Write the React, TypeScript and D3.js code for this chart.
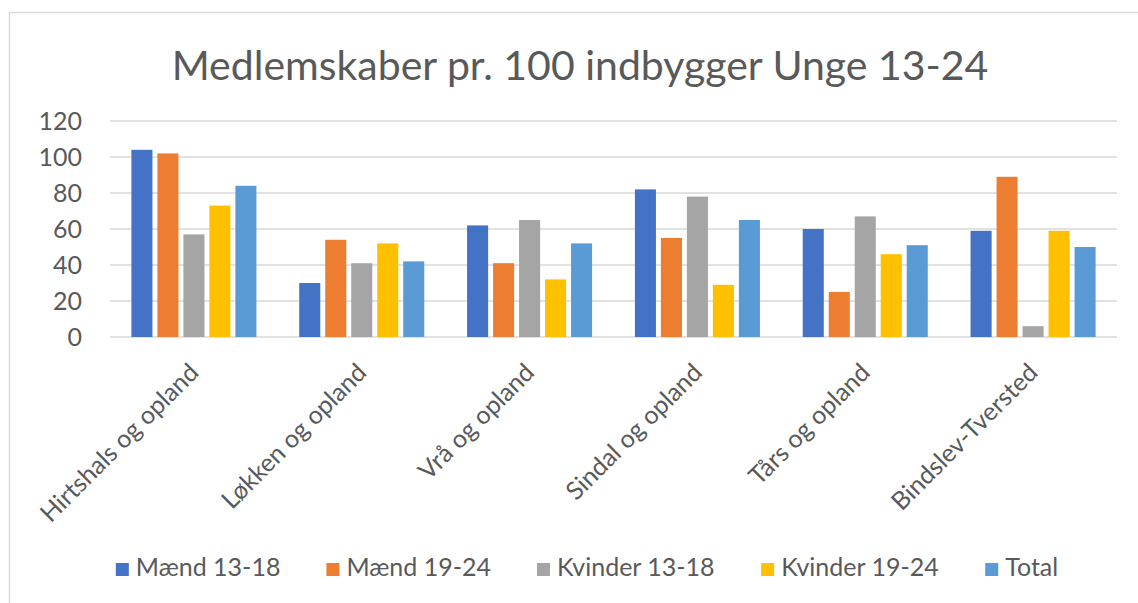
import React from 'react';
import { scaleBand, scaleLinear } from 'd3';

const categories = [
  'Hirtshals og opland',
  'Løkken og opland',
  'Vrå og opland',
  'Sindal og opland',
  'Tårs og opland',
  'Bindslev-Tversted',
];
const seriesNames = ['Mænd 13-18', 'Mænd 19-24', 'Kvinder 13-18', 'Kvinder 19-24', 'Total'];
const maend1318 = [104, 30, 62, 82, 60, 59];
const maend1924 = [102, 54, 41, 55, 25, 89];
const kvinder1318 = [57, 41, 65, 78, 67, 6];
const kvinder1924 = [73, 52, 32, 29, 46, 59];
const total = [84, 42, 52, 65, 51, 50];
const yTicks = [0, 20, 40, 60, 80, 100, 120];

const colors = ['#4472C4', '#ED7D31', '#A5A5A5', '#FFC000', '#5B9BD5'];
const seriesValues = [maend1318, maend1924, kvinder1318, kvinder1924, total];

const W = 1138;
const H = 603;
const FONT = 'Lato, "Open Sans", sans-serif';
const textColor = '#595959';
const gridColor = '#d9d9d9';

// plot area
const left = 110;
const right = 1117;
const top = 121;
const bottom = 337;

const measure = (txt: string, size: number) => {
  const ctx = document.createElement('canvas').getContext('2d');
  if (!ctx) return txt.length * size * 0.5;
  ctx.font = `${size}px Lato`;
  return ctx.measureText(txt).width;
};

export default function App() {
  const x0 = scaleBand<string>()
    .domain(categories)
    .range([left, right])
    .paddingInner(0.255)
    .paddingOuter(0.1275);
  const x1 = scaleBand<string>()
    .domain(seriesNames)
    .range([0, x0.bandwidth()])
    .paddingInner(0.19);
  const y = scaleLinear().domain([0, 120]).range([bottom, top]);

  // legend layout, centred under the chart
  const legendSize = 25;
  const swatch = 13;
  const textOffset = 20;
  const itemGap = 46;
  const widths = seriesNames.map((s) => textOffset + measure(s, legendSize));
  const legendTotal = widths.reduce((a, b) => a + b, 0) + itemGap * (widths.length - 1);
  let lx = 587 - legendTotal / 2;
  const legendX = widths.map((w) => {
    const p = lx;
    lx += w + itemGap;
    return p;
  });
  const legendBase = 576;

  return (
    <svg
      width={W}
      height={H}
      style={{ position: 'absolute', left: 0, top: 0, background: '#fff' }}
      fontFamily={FONT}
    >
      <rect x={9.5} y={12.5} width={W + 10} height={H + 10} fill="#fff" stroke={gridColor} strokeWidth={1.5} />

      <text x={580} y={80} textAnchor="middle" fontSize={41} fill={textColor}>
        Medlemskaber pr. 100 indbygger Unge 13-24
      </text>

      {yTicks.map((t) => (
        <g key={t}>
          <line x1={left} x2={right} y1={y(t)} y2={y(t)} stroke={gridColor} strokeWidth={1.5} />
          <text x={82} y={y(t)} dy="0.35em" textAnchor="end" fontSize={25} fill={textColor}>
            {t}
          </text>
        </g>
      ))}

      {categories.map((c, ci) => (
        <g key={c} transform={`translate(${x0(c)},0)`}>
          {seriesNames.map((s, si) => {
            const v = seriesValues[si][ci];
            return (
              <rect
                key={s}
                x={x1(s)}
                y={y(v)}
                width={x1.bandwidth()}
                height={y(0) - y(v)}
                fill={colors[si]}
              />
            );
          })}
        </g>
      ))}

      {categories.map((c) => {
        const cx = (x0(c) ?? 0) + x0.bandwidth() / 2;
        return (
          <text
            key={c}
            transform={`translate(${cx},368) rotate(-45)`}
            dy="0.35em"
            textAnchor="end"
            fontSize={25}
            fill={textColor}
          >
            {c}
          </text>
        );
      })}

      {seriesNames.map((s, i) => (
        <g key={s} transform={`translate(${legendX[i]},0)`}>
          <rect x={0} y={legendBase - swatch} width={swatch} height={swatch} fill={colors[i]} />
          <text x={textOffset} y={legendBase} fontSize={legendSize} fill={textColor}>
            {s}
          </text>
        </g>
      ))}
    </svg>
  );
}
